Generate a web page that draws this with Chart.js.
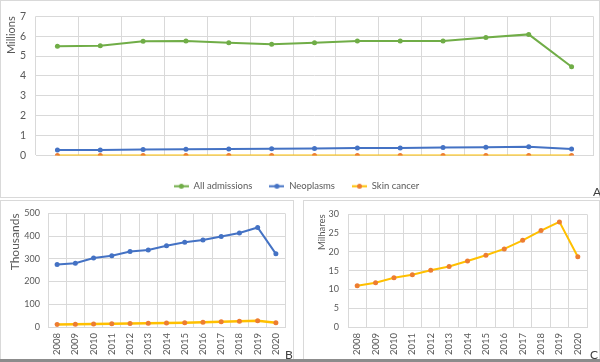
<!DOCTYPE html>
<html lang="en">
<head>
<meta charset="UTF-8">
<title>hospital-admissions</title>
<style>
    body { margin: 0; background: #fff; width: 600px; height: 362px; position: relative; overflow: hidden; }
    .panel { position: absolute; border: 1px solid #d9d9d9; box-sizing: border-box; }
    canvas { position: absolute; }
    .tag { position: absolute; font: 12px Lato, sans-serif; color: #404040; line-height: 12px; }
</style>
</head>
<body>
<script src="https://cdn.jsdelivr.net/npm/chart.js@4.4.0/dist/chart.umd.min.js"></script>

<div class="panel" style="left:0;top:0;width:600px;height:198px"></div>
<div class="panel" style="left:0;top:200px;width:294px;height:162px"></div>
<div class="panel" style="left:303px;top:200px;width:297px;height:162px"></div>
<div style="position:absolute;left:0;top:359px;width:600px;height:3px;background:#8c8c8c"></div>

<canvas id="chartA" width="600" height="201" style="left:0;top:0"></canvas>
<canvas id="chartB" width="294" height="160" style="left:0;top:200px"></canvas>
<canvas id="chartC" width="294" height="160" style="left:304px;top:200px"></canvas>

<span class="tag" style="left:593px;top:186px">A</span>
<span class="tag" style="left:285px;top:349px">B</span>
<span class="tag" style="left:590px;top:349px">C</span>

<script>
    const years = ['2008', '2009', '2010', '2011', '2012', '2013', '2014', '2015', '2016', '2017', '2018', '2019', '2020'];
    const allAdmissionsMillions = [5.49, 5.52, 5.75, 5.76, 5.67, 5.59, 5.67, 5.76, 5.76, 5.76, 5.93, 6.09, 4.46];
    const neoplasmsThousands = [275, 281, 304, 314, 332, 339, 358, 373, 383, 398, 414, 438, 322];
    const skinCancerThousands = [11.0, 11.8, 13.1, 13.9, 15.1, 16.1, 17.6, 19.1, 20.8, 23.1, 25.7, 28.0, 18.7];

    const green = '#70ad47', blue = '#4472c4', gold = '#ffc000', orange = '#ed7d31';
    const gridColor = '#d9d9d9', textColor = '#595959', font = 'Lato';

    // small line + dot icon, like the excel legend
    function legendIcon(line, dot) {
        const c = document.createElement('canvas');
        c.width = 15; c.height = 7;
        const g = c.getContext('2d');
        g.strokeStyle = line; g.lineWidth = 2;
        g.beginPath(); g.moveTo(0, 3.5); g.lineTo(15, 3.5); g.stroke();
        g.fillStyle = dot;
        g.beginPath(); g.arc(7.5, 3.5, 2.5, 0, Math.PI * 2); g.fill();
        return c;
    }

    function series(label, data, line, dot, width) {
        return {
            label: label, data: data,
            borderColor: line, backgroundColor: dot, borderWidth: width,
            pointRadius: 2.5, pointBorderWidth: 0, pointBackgroundColor: dot,
            tension: 0
        };
    }

    function options(cfg) {
        return {
            responsive: false,
            animation: false,
            layout: { padding: cfg.padding },
            plugins: {
                legend: cfg.legend || { display: false },
                tooltip: { enabled: false }
            },
            scales: {
                x: {
                    offset: true,
                    grid: { offset: true, color: gridColor, drawTicks: false },
                    border: { color: gridColor },
                    ticks: {
                        color: textColor, font: { family: font, size: cfg.xSize },
                        padding: cfg.xPad, maxRotation: cfg.rot, minRotation: cfg.rot, autoSkip: false
                    },
                    afterFit: s => { s.height = cfg.xHeight; }
                },
                y: {
                    min: 0, max: cfg.max,
                    grid: { color: gridColor, drawTicks: false },
                    border: { display: false },
                    ticks: { stepSize: cfg.step, color: textColor, font: { family: font, size: cfg.ySize }, padding: cfg.yPad },
                    title: {
                        display: true, text: cfg.title, align: 'end', color: textColor,
                        font: { family: font, size: cfg.titleSize }, padding: { top: cfg.titlePad, bottom: 0 }
                    },
                    afterFit: s => { s.width = cfg.yWidth; }
                }
            }
        };
    }

    new Chart(document.getElementById('chartA'), {
        type: 'line',
        data: {
            labels: years,
            datasets: [
                series('All admissions', allAdmissionsMillions, green, green, 2),
                series('Neoplasms', neoplasmsThousands.map(v => v / 1000), blue, blue, 2),
                series('Skin cancer', skinCancerThousands.map(v => v / 1000000), gold, orange, 2)
            ]
        },
        options: options({
            padding: { top: 10, right: 7, left: 0, bottom: 0 },
            max: 7, step: 1, title: 'Millions', titleSize: 11, titlePad: 5,
            xSize: 10.5, xPad: 8, xHeight: 9, rot: 0,
            ySize: 10.5, yPad: 10, yWidth: 36,
            legend: {
                position: 'bottom',
                labels: {
                    usePointStyle: true, pointStyleWidth: 15, padding: 17,
                    font: { family: font, size: 9.5 }, color: textColor,
                    generateLabels: chart => chart.data.datasets.map((ds, i) => ({
                        text: ds.label, datasetIndex: i, fontColor: textColor,
                        pointStyle: legendIcon(ds.borderColor, ds.pointBackgroundColor),
                        fillStyle: 'transparent', strokeStyle: 'transparent', lineWidth: 0
                    }))
                }
            }
        })
    });

    new Chart(document.getElementById('chartB'), {
        type: 'line',
        data: {
            labels: years,
            datasets: [
                series('Neoplasms', neoplasmsThousands, blue, blue, 2),
                series('Skin cancer', skinCancerThousands, gold, orange, 2.5)
            ]
        },
        options: options({
            padding: { top: 12, right: 9, left: 0, bottom: 0 },
            max: 500, step: 100, title: 'Thousands', titleSize: 12, titlePad: 8,
            xSize: 9.5, xPad: 6, xHeight: 33, rot: 90,
            ySize: 9, yPad: 8, yWidth: 48
        })
    });

    new Chart(document.getElementById('chartC'), {
        type: 'line',
        data: {
            labels: years,
            datasets: [
                series('Skin cancer', skinCancerThousands, gold, orange, 2)
            ]
        },
        options: options({
            padding: { top: 12, right: 11, left: 0, bottom: 0 },
            max: 30, step: 5, title: 'Milhares', titleSize: 9.5, titlePad: 12,
            xSize: 9.5, xPad: 6, xHeight: 33, rot: 90,
            ySize: 9, yPad: 9, yWidth: 44
        })
    });
</script>
</body>
</html>
